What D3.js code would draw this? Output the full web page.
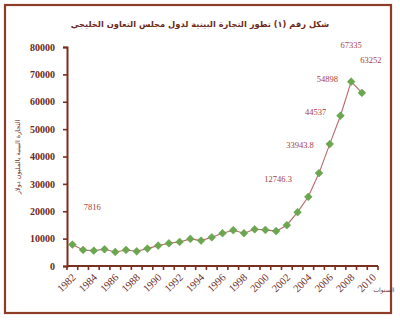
<!DOCTYPE html>
<html><head><meta charset="utf-8">
<script src="https://cdn.jsdelivr.net/npm/d3@7"></script>
<style>body{margin:0;background:#fff}svg{display:block}</style>
</head><body>
<svg id="c" width="400" height="327"></svg>
<script>
const years = d3.range(1982, 2011);
const dataYears = [1982,1983,1984,1985,1986,1987,1988,1989,1990,1991,1992,1993,1994,1995,1996,1997,1998,1999,2000,2001,2002,2003,2004,2005,2006,2007,2008,2009];
const values = [7816,5860,5600,6100,5130,5860,5370,6350,7450,8300,8800,9900,9270,10500,11970,13060,11970,13400,13190,12746.3,14900,19670,25270,33943.8,44537,54898,67335,63252];
const labelYears = [1982,2001,2005,2006,2007,2008,2009];
const labelTexts = ["7816","12746.3","33943.8","44537","54898","67335","63252"];
const yTicks = [0,10000,20000,30000,40000,50000,60000,70000,80000];
const xTickLabels = [1982,1984,1986,1988,1990,1992,1994,1996,1998,2000,2002,2004,2006,2008,2010];
const title = "شكل رقم (١) تطور التجارة البينية لدول مجلس التعاون الخليجي";
const yTitle = "التجارة البينية بالمليون دولار";
const xTitle = "السنوات";

const svg = d3.select("#c");
const brown = "#7a2e1e";
const labOff = [[20,-38],[2,-52],[-19,-28],[-14,-32],[-13,-37],[0,-37],[9,-33]];

svg.append("rect").attr("x",5).attr("y",5).attr("width",386).attr("height",308)
  .attr("fill","#fff").attr("stroke","#8e3b27").attr("stroke-width",2.2);

svg.append("text").attr("x",200).attr("y",27).attr("text-anchor","middle")
  .attr("font-family","DejaVu Sans").attr("font-weight","bold").attr("font-size",8.3)
  .attr("fill","#6b2a1a").attr("direction","rtl").text(title);

const x = d3.scaleBand().domain(years).range([67,378]);
const y = d3.scaleLinear().domain([0,80000]).range([266,47]);

// y axis
const yAxis = svg.append("g").attr("transform","translate(67,0)")
  .call(d3.axisLeft(y).tickValues(yTicks).tickSize(4).tickPadding(8).tickFormat(d3.format("d")));
yAxis.select(".domain").attr("stroke",brown).attr("stroke-width",2);
yAxis.selectAll(".tick line").attr("stroke",brown).attr("stroke-width",1.6);
yAxis.selectAll(".tick text").attr("font-family","Liberation Serif").attr("font-weight","bold")
  .attr("font-size",10).attr("fill","#6b2a1a");

// x axis
const xg = svg.append("g");
xg.append("line").attr("x1",x.range()[0]).attr("x2",x.range()[1]).attr("y1",y(0)).attr("y2",y(0))
  .attr("stroke",brown).attr("stroke-width",2);
xg.selectAll("line.t").data(years.concat([null])).enter().append("line")
  .attr("x1",d=> d===null ? x.range()[1] : x(d)).attr("x2",d=> d===null ? x.range()[1] : x(d))
  .attr("y1",y(0)).attr("y2",y(0)+4).attr("stroke",brown).attr("stroke-width",1.6);
xg.selectAll("text").data(xTickLabels).enter().append("text")
  .attr("transform",d=>`translate(${x(d)+x.bandwidth()/2+4},${y(0)+12}) rotate(-45)`)
  .attr("text-anchor","end").attr("font-family","Liberation Serif").attr("font-size",10.5)
  .attr("fill","#6b2a1a").text(d=>d);

svg.append("text").attr("x",384).attr("y",292).attr("text-anchor","middle")
  .attr("font-family","DejaVu Sans").attr("font-size",6).attr("fill","#6b2a1a").text(xTitle);
svg.append("text").attr("transform","translate(20,157) rotate(-90)").attr("text-anchor","middle")
  .attr("font-family","DejaVu Sans").attr("font-size",6.5).attr("fill","#6b2a1a").text(yTitle);

// line
const pts = dataYears.map((yr,i)=>({yr, v:values[i]}));
svg.append("path").datum(pts)
  .attr("d", d3.line().x(d=>x(d.yr)+x.bandwidth()/2).y(d=>y(d.v)))
  .attr("fill","none").attr("stroke","#b86a6a").attr("stroke-width",1.1);
svg.selectAll("path.m").data(pts).enter().append("path")
  .attr("d", d3.symbol().type(d3.symbolSquare).size(30))
  .attr("transform",d=>`translate(${x(d.yr)+x.bandwidth()/2},${y(d.v)}) rotate(45)`)
  .attr("fill","#6aa84f").attr("stroke","#5f9a44").attr("stroke-width",0.5);

// data labels
labelYears.forEach((yr,i)=>{
  const v = values[dataYears.indexOf(yr)];
  svg.append("text").attr("x",x(yr)+x.bandwidth()/2+labOff[i][0]).attr("y",y(v)+labOff[i][1]+3)
    .attr("text-anchor","middle").attr("font-family","Liberation Serif").attr("font-size",8.5)
    .attr("fill","#a84040").text(labelTexts[i]);
});
</script>
</body></html>
